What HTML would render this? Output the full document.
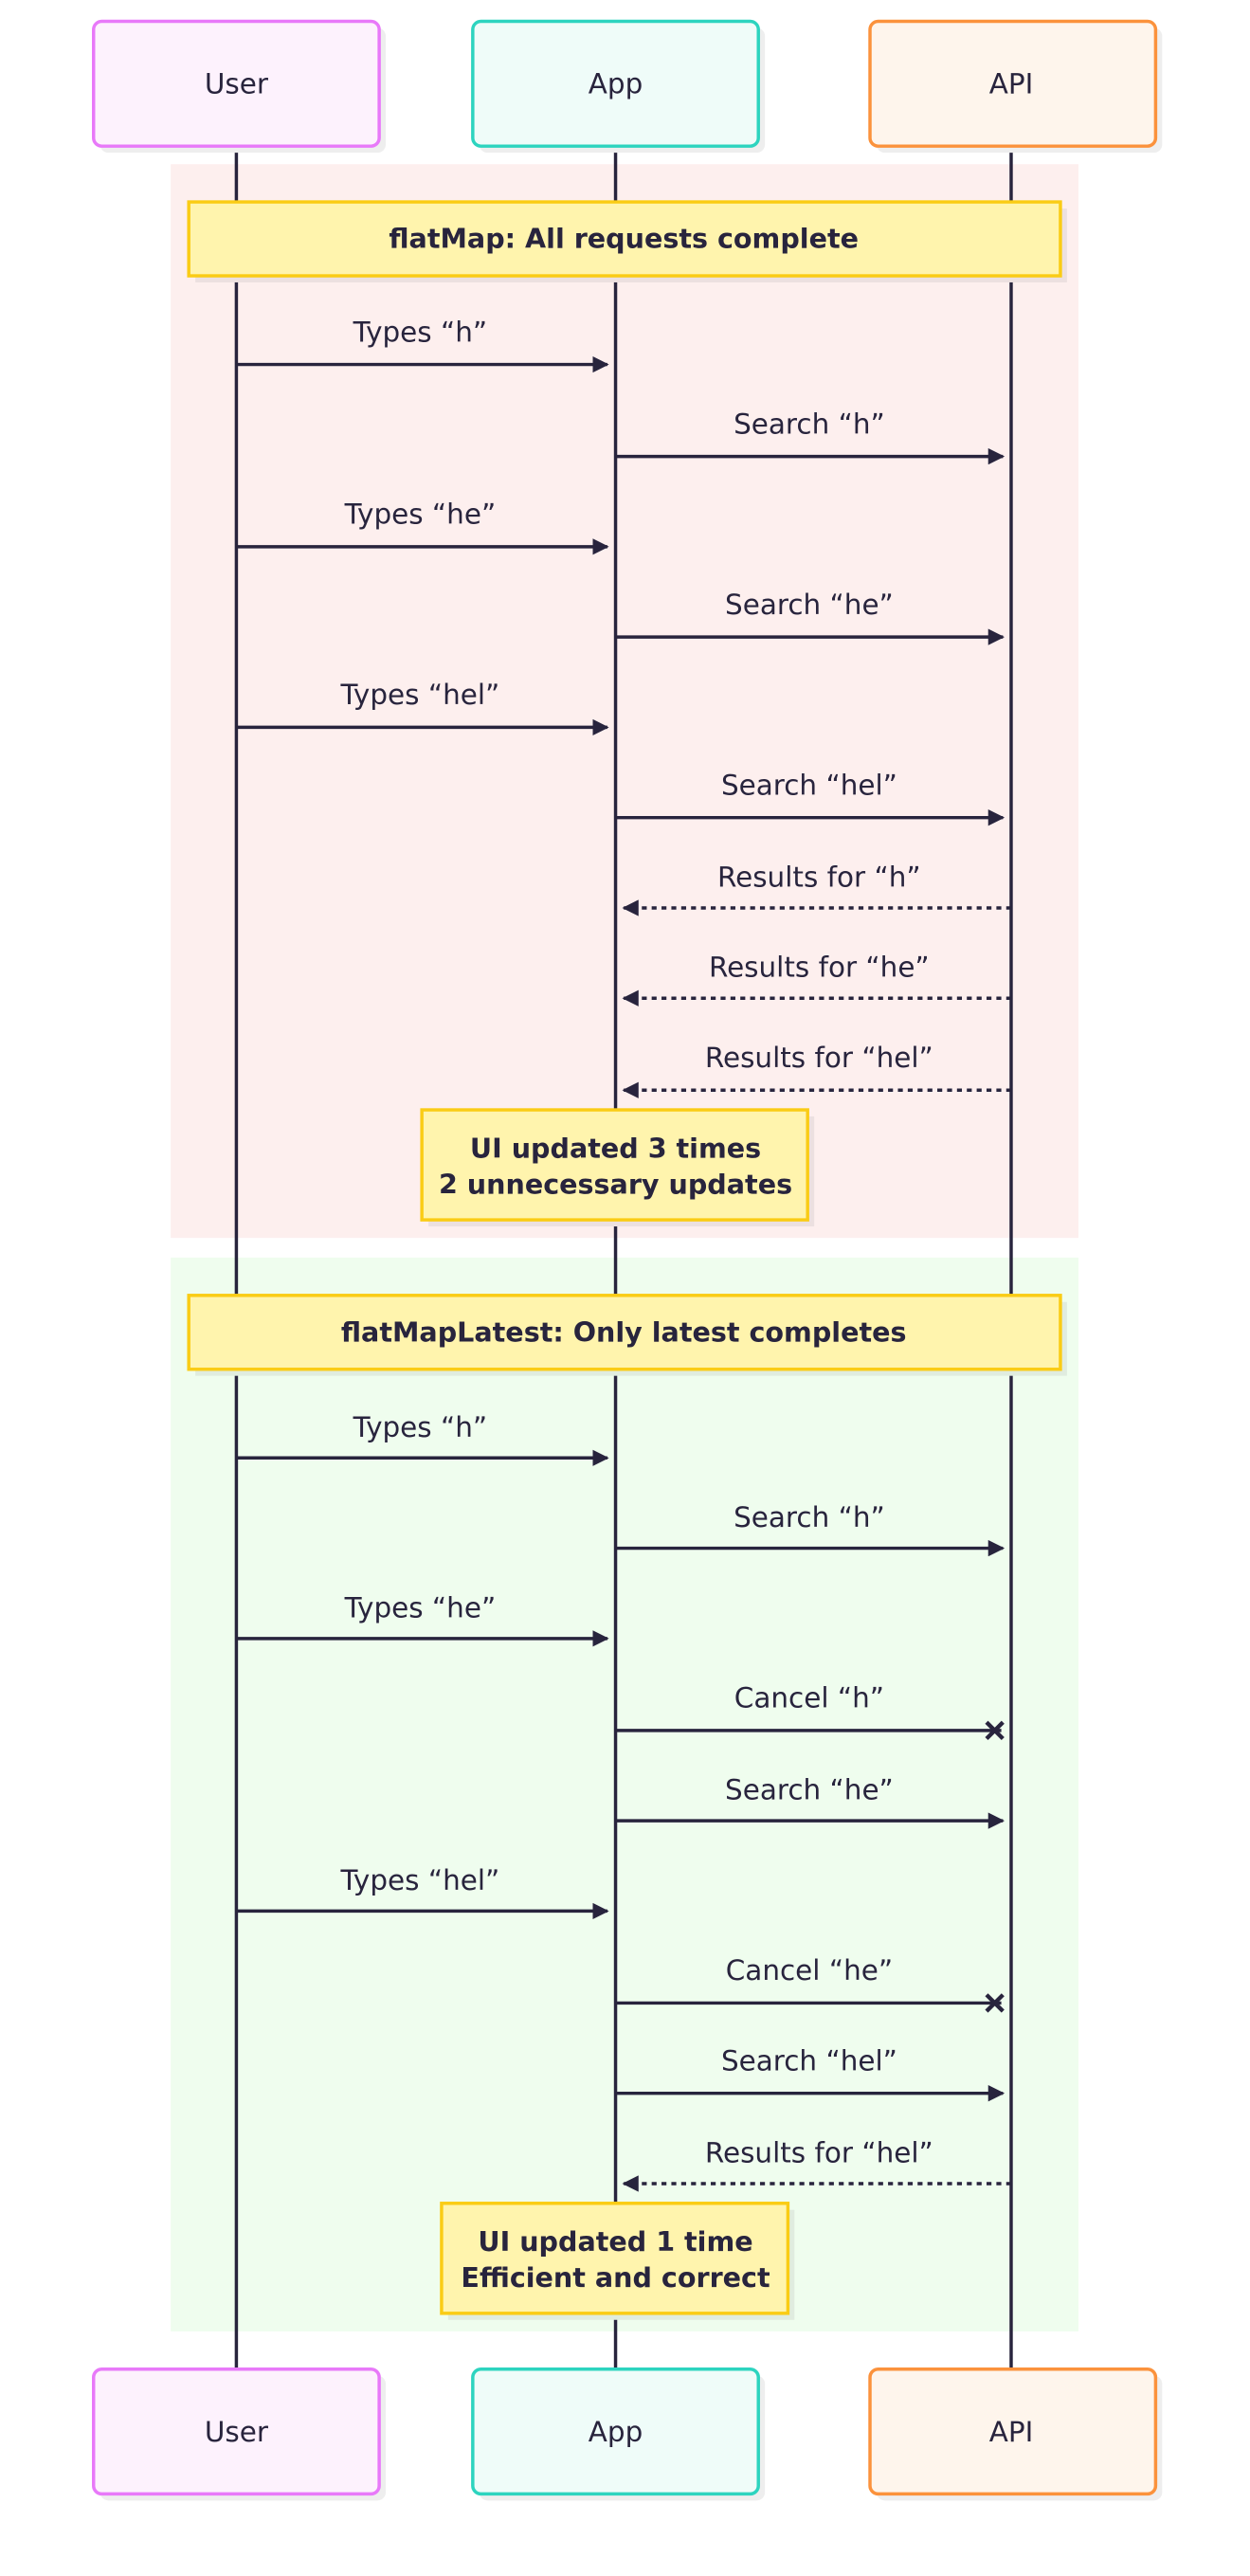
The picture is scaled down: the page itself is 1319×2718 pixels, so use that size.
<!DOCTYPE html>
<html><head><meta charset="utf-8"><style>
html,body{margin:0;padding:0;background:#fff;}
svg{display:block;}
text{font-family:"DejaVu Sans","Liberation Sans",sans-serif;fill:#28243d;}
.lbl{font-size:17px;text-anchor:middle;}
.act{font-size:17px;text-anchor:middle;}
.note{font-size:16.5px;font-weight:bold;text-anchor:middle;}
</style></head><body>
<svg width="1319" height="2718" viewBox="0 0 761.5 1569" preserveAspectRatio="none" xmlns="http://www.w3.org/2000/svg">
<defs>
<marker id="ah" markerWidth="10" markerHeight="10" refX="9" refY="5" orient="auto" markerUnits="userSpaceOnUse">
<path d="M0,0 L10,5 L0,10 z" fill="#28243d"/></marker>
</defs>
<rect x="104" y="100" width="553" height="654" fill="#fdefee"/>
<rect x="104" y="766" width="553" height="654" fill="#effdee"/>
<g stroke="#28243d" stroke-width="2">
<line x1="144" y1="89" x2="144" y2="1443"/>
<line x1="375" y1="89" x2="375" y2="1443"/>
<line x1="616" y1="89" x2="616" y2="1443"/>
</g>
<g stroke-width="2">
<rect x="61" y="17" width="174" height="76" rx="5" fill="#eee" stroke="none"/>
<rect x="57" y="13" width="174" height="76" rx="5" fill="#fdf2fd" stroke="#e879f9"/>
<rect x="292" y="17" width="174" height="76" rx="5" fill="#eee" stroke="none"/>
<rect x="288" y="13" width="174" height="76" rx="5" fill="#effcf9" stroke="#2dd4bf"/>
<rect x="534" y="17" width="174" height="76" rx="5" fill="#eee" stroke="none"/>
<rect x="530" y="13" width="174" height="76" rx="5" fill="#fef5ec" stroke="#fb923c"/>
<rect x="61" y="1447" width="174" height="76" rx="5" fill="#eee" stroke="none"/>
<rect x="57" y="1443" width="174" height="76" rx="5" fill="#fdf2fd" stroke="#e879f9"/>
<rect x="292" y="1447" width="174" height="76" rx="5" fill="#eee" stroke="none"/>
<rect x="288" y="1443" width="174" height="76" rx="5" fill="#effcf9" stroke="#2dd4bf"/>
<rect x="534" y="1447" width="174" height="76" rx="5" fill="#eee" stroke="none"/>
<rect x="530" y="1443" width="174" height="76" rx="5" fill="#fef5ec" stroke="#fb923c"/>
</g>
<text class="act" x="144" y="57">User</text>
<text class="act" x="375" y="57">App</text>
<text class="act" x="616" y="57">API</text>
<text class="act" x="144" y="1487">User</text>
<text class="act" x="375" y="1487">App</text>
<text class="act" x="616" y="1487">API</text>
<g stroke="#facc15" stroke-width="2" fill="#fff4ad">
<rect x="119" y="127" width="531" height="45" fill="#ece0e0" stroke="none"/>
<rect x="115" y="123" width="531" height="45"/>
<rect x="261" y="680" width="235" height="67" fill="#ece0e0" stroke="none"/>
<rect x="257" y="676" width="235" height="67"/>
<rect x="119" y="793" width="531" height="45" fill="#e0ecdf" stroke="none"/>
<rect x="115" y="789" width="531" height="45"/>
<rect x="273" y="1346" width="211" height="67" fill="#e0ecdf" stroke="none"/>
<rect x="269" y="1342" width="211" height="67"/>
</g>
<text class="note" x="380" y="151">flatMap: All requests complete</text>
<text class="note" x="375" y="705">UI updated 3 times</text>
<text class="note" x="375" y="727">2 unnecessary updates</text>
<text class="note" x="380" y="817">flatMapLatest: Only latest completes</text>
<text class="note" x="375" y="1371">UI updated 1 time</text>
<text class="note" x="375" y="1393">Efficient and correct</text>
<g stroke="#28243d" stroke-width="2" fill="none">
<line x1="144" y1="222" x2="370" y2="222" marker-end="url(#ah)"/>
<line x1="375" y1="278" x2="611" y2="278" marker-end="url(#ah)"/>
<line x1="144" y1="333" x2="370" y2="333" marker-end="url(#ah)"/>
<line x1="375" y1="388" x2="611" y2="388" marker-end="url(#ah)"/>
<line x1="144" y1="443" x2="370" y2="443" marker-end="url(#ah)"/>
<line x1="375" y1="498" x2="611" y2="498" marker-end="url(#ah)"/>
<line x1="616" y1="553" x2="380" y2="553" stroke-dasharray="3,3" marker-end="url(#ah)"/>
<line x1="616" y1="608" x2="380" y2="608" stroke-dasharray="3,3" marker-end="url(#ah)"/>
<line x1="616" y1="664" x2="380" y2="664" stroke-dasharray="3,3" marker-end="url(#ah)"/>
<line x1="144" y1="888" x2="370" y2="888" marker-end="url(#ah)"/>
<line x1="375" y1="943" x2="611" y2="943" marker-end="url(#ah)"/>
<line x1="144" y1="998" x2="370" y2="998" marker-end="url(#ah)"/>
<line x1="375" y1="1054" x2="610" y2="1054"/>
<line x1="375" y1="1109" x2="611" y2="1109" marker-end="url(#ah)"/>
<line x1="144" y1="1164" x2="370" y2="1164" marker-end="url(#ah)"/>
<line x1="375" y1="1220" x2="610" y2="1220"/>
<line x1="375" y1="1275" x2="611" y2="1275" marker-end="url(#ah)"/>
<line x1="616" y1="1330" x2="380" y2="1330" stroke-dasharray="3,3" marker-end="url(#ah)"/>
<path d="M601,1049 L611,1059 M611,1049 L601,1059" stroke-width="2.5"/>
<path d="M601,1215 L611,1225 M611,1215 L601,1225" stroke-width="2.5"/>
</g>
<text class="lbl" x="256" y="208">Types “h”</text>
<text class="lbl" x="493" y="264">Search “h”</text>
<text class="lbl" x="256" y="319">Types “he”</text>
<text class="lbl" x="493" y="374">Search “he”</text>
<text class="lbl" x="256" y="429">Types “hel”</text>
<text class="lbl" x="493" y="484">Search “hel”</text>
<text class="lbl" x="499" y="540">Results for “h”</text>
<text class="lbl" x="499" y="595">Results for “he”</text>
<text class="lbl" x="499" y="650">Results for “hel”</text>
<text class="lbl" x="256" y="875">Types “h”</text>
<text class="lbl" x="493" y="930">Search “h”</text>
<text class="lbl" x="256" y="985">Types “he”</text>
<text class="lbl" x="493" y="1040">Cancel “h”</text>
<text class="lbl" x="493" y="1096">Search “he”</text>
<text class="lbl" x="256" y="1151">Types “hel”</text>
<text class="lbl" x="493" y="1206">Cancel “he”</text>
<text class="lbl" x="493" y="1261">Search “hel”</text>
<text class="lbl" x="499" y="1317">Results for “hel”</text>
</svg>
</body></html>
